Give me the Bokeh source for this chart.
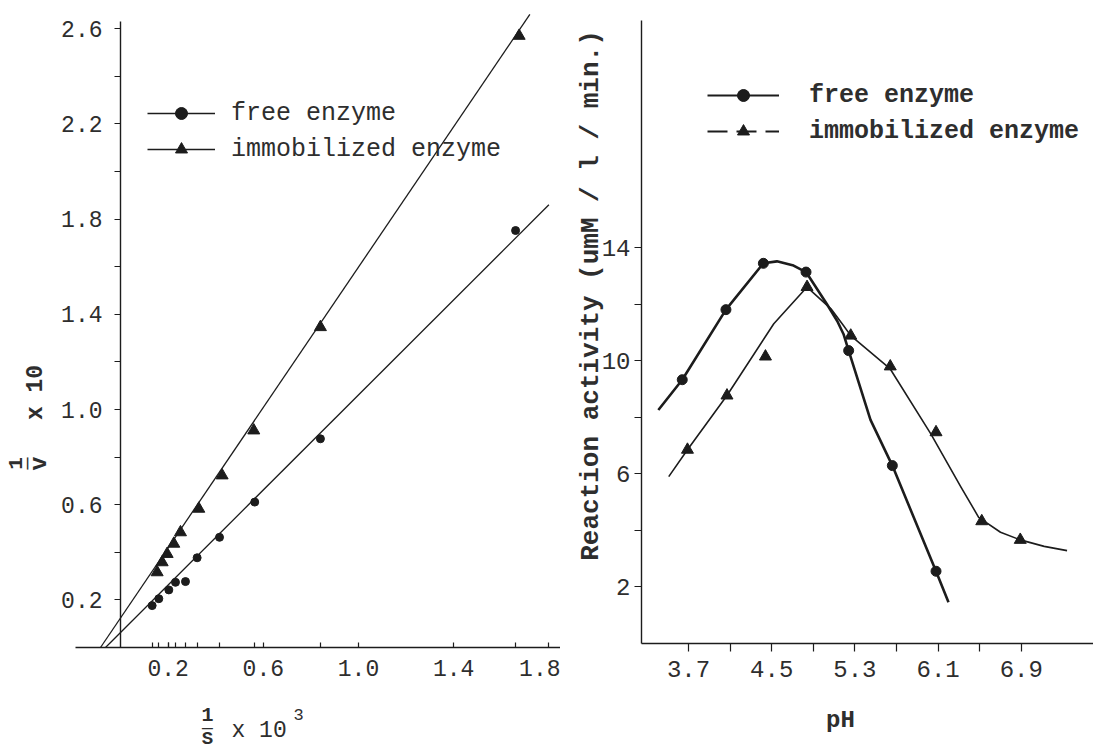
import math
from bokeh.plotting import figure
from bokeh.layouts import row
from bokeh.models import FixedTicker, Label, Legend, LegendItem, Range1d, PrintfTickFormatter
from bokeh.embed import file_html
from bokeh.resources import INLINE

INK = "#1c1c1c"
TXT = "#2e2e2e"
MONO = "Liberation Mono"

# ---------------- Left panel: Lineweaver-Burk plot (1/S x 10^3 vs 1/V x 10) ----------------
inv_s_free = [0.133, 0.161, 0.203, 0.231, 0.273, 0.322, 0.416, 0.564, 0.840, 1.660]
inv_v_free = [0.176, 0.205, 0.242, 0.274, 0.277, 0.377, 0.463, 0.611, 0.877, 1.752]
inv_s_imm = [0.154, 0.175, 0.196, 0.224, 0.252, 0.329, 0.427, 0.560, 0.840, 1.675]
inv_v_imm = [0.316, 0.358, 0.393, 0.436, 0.484, 0.583, 0.723, 0.912, 1.346, 2.570]
# fitted straight lines (end points as drawn)
fit_s_free = [-0.063, 1.80]
fit_v_free = [0.0, 1.86]
fit_s_imm = [-0.084, 1.72]
fit_v_imm = [0.0, 2.66]
lb_x_ticks = [0.2, 0.6, 1.0, 1.4, 1.8]
lb_y_ticks = [0.2, 0.6, 1.0, 1.4, 1.8, 2.2, 2.6]
lb_y_minor = [0.4, 0.8, 1.2, 1.6, 2.0, 2.4]

# ---------------- Right panel: pH activity profile ----------------
ph_free = [3.64, 4.06, 4.42, 4.83, 5.24, 5.66, 6.08]
act_free = [9.32, 11.8, 13.44, 13.13, 10.35, 6.28, 2.54]
ph_imm = [3.69, 4.07, 4.44, 4.84, 5.26, 5.64, 6.08, 6.52, 6.89]
act_imm = [6.84, 8.76, 10.14, 12.6, 10.88, 9.79, 7.46, 4.31, 3.65]
# hand-drawn curves (traced)
curve_ph_free = [3.41, 3.64, 4.06, 4.42, 4.55, 4.71, 4.83, 5.03, 5.13, 5.19, 5.24, 5.45, 5.66, 6.08, 6.20]
curve_act_free = [8.25, 9.32, 11.8, 13.44, 13.51, 13.36, 13.13, 12.0, 11.4, 10.94, 10.35, 7.9, 6.28, 2.54, 1.44]
curve_ph_imm = [3.51, 3.69, 4.07, 4.52, 4.84, 5.07, 5.19, 5.26, 5.64, 6.03, 6.32, 6.49, 6.70, 6.89, 7.12, 7.34]
curve_act_imm = [5.89, 6.84, 8.76, 11.3, 12.6, 11.83, 11.24, 10.88, 9.7, 7.4, 5.52, 4.45, 3.92, 3.65, 3.42, 3.27]
ph_ticks = [3.7, 4.5, 5.3, 6.1, 6.9]
ph_minor = [4.1, 4.9, 5.7, 6.5]
act_ticks = [2, 6, 10, 14]
act_minor = [4, 8, 12]

H = 750
WL, WR = 560, 533


# page pixel -> data helpers (used only for ranges and text placement)
def lbx(px):
    return (px - 120) / 238.0


def lby(py):
    return (647 - py) / 238.0


def phx(px):
    return 3.7 + (px - 688) / 104.0


def acty(py):
    return (642.5 - py) / 28.25


def style_axes(p, size):
    p.grid.visible = False
    p.outline_line_color = None
    for ax in p.axis:
        ax.axis_line_color = INK
        ax.axis_line_width = 1.4
        ax.major_tick_line_color = INK
        ax.minor_tick_line_color = INK
        ax.major_tick_line_width = 1.2
        ax.minor_tick_line_width = 1.2
        ax.major_label_text_font = MONO
        ax.major_label_text_color = TXT
        ax.major_label_text_font_size = size


# ---------------- Left figure ----------------
pL = figure(width=WL, height=H, title=None, output_backend="svg", toolbar_location=None,
            x_range=Range1d(lbx(0), lbx(WL)), y_range=Range1d(lby(H), lby(0)),
            min_border=0)
pL.xaxis.fixed_location = 0
pL.yaxis.fixed_location = 0
pL.xaxis.bounds = (-0.19, 1.87)
pL.yaxis.bounds = (0, 2.63)
pL.xaxis.ticker = FixedTicker(ticks=lb_x_ticks, minor_ticks=inv_s_free)
pL.yaxis.ticker = FixedTicker(ticks=lb_y_ticks, minor_ticks=lb_y_minor)
pL.xaxis.formatter = PrintfTickFormatter(format="%.1f")
pL.yaxis.formatter = PrintfTickFormatter(format="%.1f")
style_axes(pL, "23px")
pL.xaxis.major_tick_in = 5
pL.xaxis.major_tick_out = 0
pL.xaxis.minor_tick_in = 5
pL.xaxis.minor_tick_out = 0
pL.xaxis.major_label_standoff = 12
pL.yaxis.major_tick_in = 0
pL.yaxis.major_tick_out = 6
pL.yaxis.minor_tick_in = 0
pL.yaxis.minor_tick_out = 6
pL.yaxis.major_label_standoff = 12

lf = pL.line(fit_s_free, fit_v_free, line_color=INK, line_width=1.3)
li = pL.line(fit_s_imm, fit_v_imm, line_color=INK, line_width=1.3)
sf = pL.scatter(inv_s_free, inv_v_free, marker="circle", size=8, color=INK)
si = pL.scatter(inv_s_imm, inv_v_imm, marker="triangle", size=12, color=INK)

legL = Legend(items=[LegendItem(label="free enzyme", renderers=[lf, sf]),
                     LegendItem(label="immobilized enzyme", renderers=[li, si])],
              location=(147, 586), orientation="vertical", glyph_width=68, glyph_height=30,
              label_height=30, spacing=6, padding=0, margin=0, label_standoff=16,
              border_line_color=None, background_fill_alpha=0,
              label_text_font=MONO, label_text_font_size="25px", label_text_color=TXT)
pL.add_layout(legL)

lab_kw = dict(text_font=MONO, text_color=TXT, text_align="center", text_baseline="middle")
# y-axis title: (1/v) x 10, rotated
pL.add_layout(Label(x=lbx(35), y=lby(392), text="x 10", angle=math.pi / 2, text_font_size="23px",
                    text_font_style="bold", **lab_kw))
pL.add_layout(Label(x=lbx(15), y=lby(463), text="1", angle=math.pi / 2, text_font_size="21px",
                    text_font_style="bold", **lab_kw))
pL.add_layout(Label(x=lbx(27), y=lby(463), text="—", angle=math.pi / 2, text_font_size="20px", **lab_kw))
pL.add_layout(Label(x=lbx(39), y=lby(463), text="v", angle=math.pi / 2, text_font_size="23px",
                    text_font_style="bold", **lab_kw))
# x-axis title: (1/S) x 10^3
pL.add_layout(Label(x=lbx(207), y=lby(714), text="1", text_font_size="20px", text_font_style="bold", **lab_kw))
pL.add_layout(Label(x=lbx(207), y=lby(727), text="—", text_font_size="18px", **lab_kw))
pL.add_layout(Label(x=lbx(207), y=lby(738), text="S", text_font_size="19px", text_font_style="bold", **lab_kw))
pL.add_layout(Label(x=lbx(231), y=lby(730), text="x 10", text_font=MONO, text_color=TXT,
                    text_align="left", text_baseline="middle", text_font_size="23px"))
pL.add_layout(Label(x=lbx(293), y=lby(714), text="3", text_font=MONO, text_color=TXT,
                    text_align="left", text_baseline="middle", text_font_size="17px"))

# ---------------- Right figure ----------------
pR = figure(width=WR, height=H, title=None, output_backend="svg", toolbar_location=None,
            x_range=Range1d(phx(WL), phx(WL + WR)), y_range=Range1d(acty(H), acty(0)),
            min_border=0)
pR.xaxis.fixed_location = 0
pR.yaxis.fixed_location = phx(641)
pR.xaxis.bounds = (phx(641), phx(WL + WR))
pR.yaxis.bounds = (0, acty(20))
pR.xaxis.ticker = FixedTicker(ticks=ph_ticks, minor_ticks=ph_minor)
pR.yaxis.ticker = FixedTicker(ticks=act_ticks, minor_ticks=act_minor)
pR.xaxis.formatter = PrintfTickFormatter(format="%.1f")
style_axes(pR, "24px")
pR.xaxis.major_tick_in = 0
pR.xaxis.major_tick_out = 8
pR.xaxis.minor_tick_in = 0
pR.xaxis.minor_tick_out = 8
pR.xaxis.major_label_standoff = 10
pR.yaxis.major_tick_in = 0
pR.yaxis.major_tick_out = 7
pR.yaxis.minor_tick_in = 0
pR.yaxis.minor_tick_out = 7
pR.yaxis.major_label_standoff = 4

cf = pR.line(curve_ph_free, curve_act_free, line_color=INK, line_width=2.6, line_join="round")
ci = pR.line(curve_ph_imm, curve_act_imm, line_color=INK, line_width=1.6, line_join="round")
rf = pR.scatter(ph_free, act_free, marker="circle", size=10, color=INK)
ri = pR.scatter(ph_imm, act_imm, marker="triangle", size=12, color=INK)
# legend-only line samples (hidden in the plot area)
solid_legend = pR.line(curve_ph_free, curve_act_free, line_color=INK, line_width=1.8, visible=False)
dash_legend = pR.line(curve_ph_imm, curve_act_imm, line_color=INK, line_width=2.0,
                      line_dash="20 9", visible=False)

legR = Legend(items=[LegendItem(label="free enzyme", renderers=[solid_legend, rf]),
                     LegendItem(label="immobilized enzyme", renderers=[dash_legend, ri])],
              location=(147, 604), orientation="vertical", glyph_width=72, glyph_height=30,
              label_height=30, spacing=6, padding=0, margin=0, label_standoff=30,
              border_line_color=None, background_fill_alpha=0,
              label_text_font=MONO, label_text_font_size="25px", label_text_font_style="bold",
              label_text_color=TXT)
pR.add_layout(legR)

pR.add_layout(Label(x=phx(590), y=acty(295), text="Reaction activity (umM / l / min.)",
                    angle=math.pi / 2, text_font_size="26px", text_font_style="bold", **lab_kw))
pR.add_layout(Label(x=phx(840), y=acty(720), text="pH", text_font_size="24px",
                    text_font_style="bold", **lab_kw))

layout = row(pL, pR)
open("out.html", "w").write(file_html(layout, INLINE))
